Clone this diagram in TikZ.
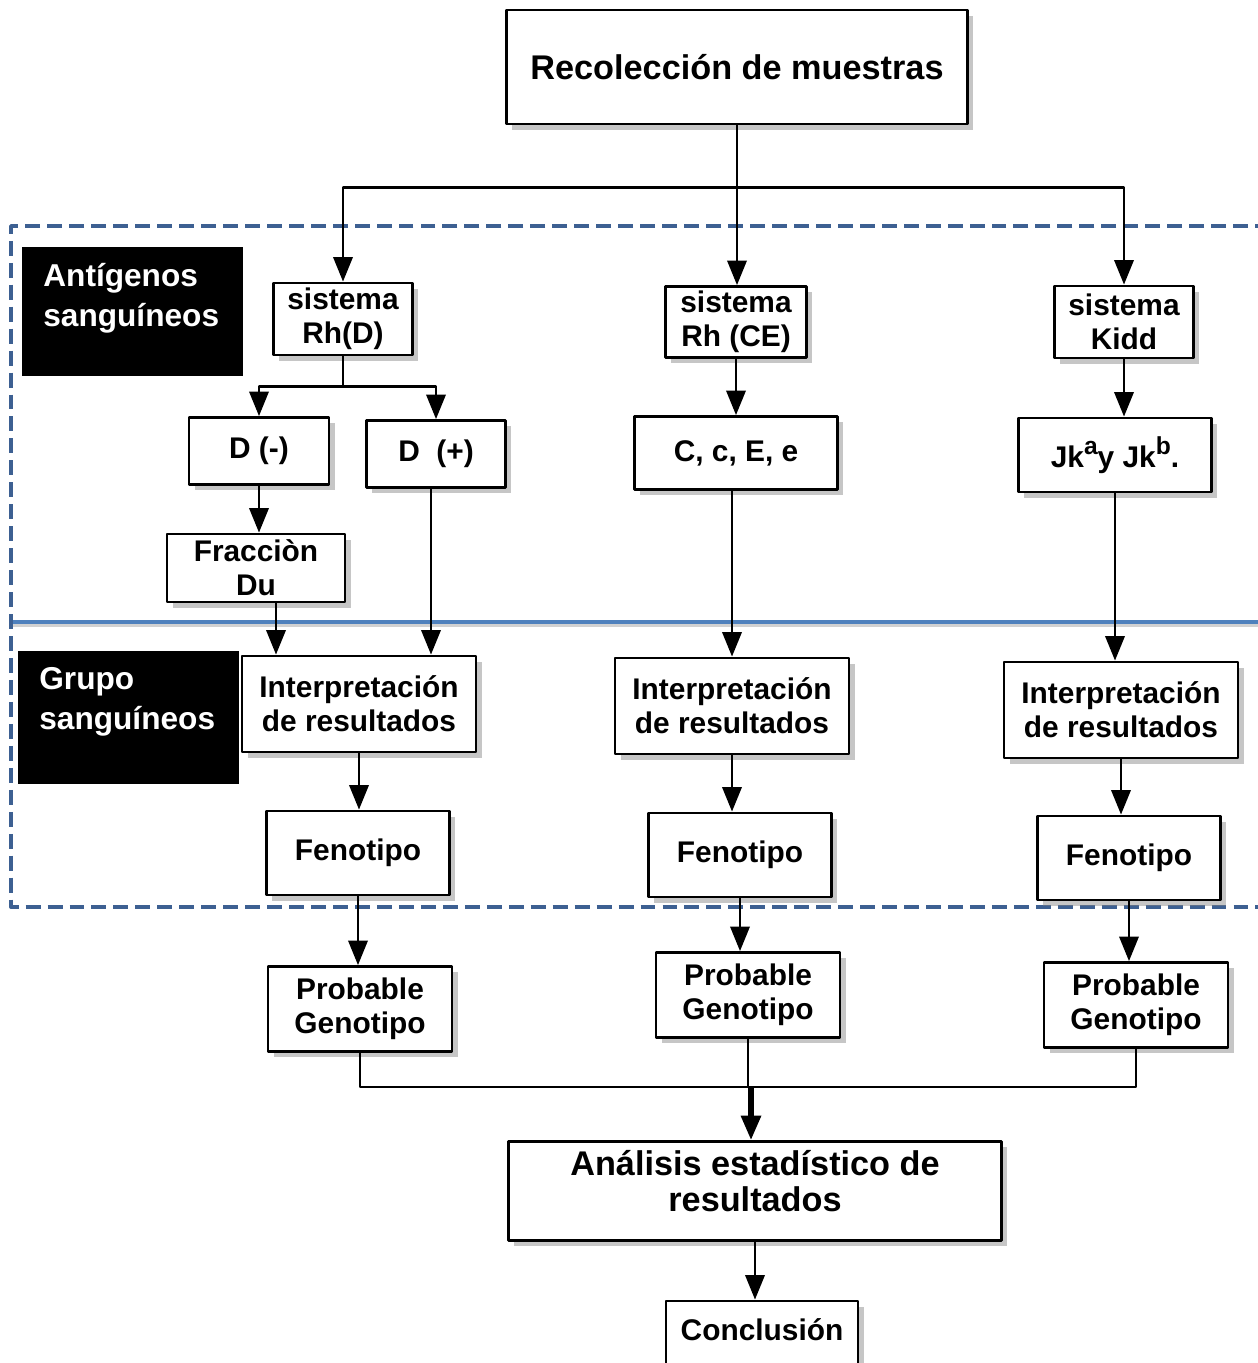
\documentclass[tikz,border=0pt]{standalone}
\usepackage{fontspec}
\setmainfont{Liberation Sans}
\usetikzlibrary{arrows.meta,shadows,calc}
\definecolor{dashblue}{RGB}{61,96,146}
\definecolor{lineblue}{RGB}{79,129,189}
\newcommand{\supjk}[1]{\raisebox{0.45em}{\fontsize{14}{14}\selectfont #1}}
\begin{document}
\begin{tikzpicture}[line join=round,x=0.02cm,y=-0.02cm,>={Triangle[length=14pt,width=11pt]}]
	\tikzset{box/.style={draw,fill=white,line width=1.6pt,align=center,inner sep=1pt,font=\bfseries\fontsize{17}{19.3}\selectfont,drop shadow={shadow xshift=3.2pt,shadow yshift=-3.2pt,opacity=0.45}},
		bigbox/.style={box,font=\bfseries\fontsize{19.5}{20.4}\selectfont},
		tag/.style={fill=black,text=white,align=left,anchor=north west,inner xsep=0.42cm,inner ysep=0pt,text width=3.58cm,font=\bfseries\fontsize{18}{23}\selectfont},
		conn/.style={->,line width=1.5pt}}
	\clip (0,0) rectangle (1258,1363);
	\draw[black!18,line width=2.5pt] (11,625)--(1270,625);
	\draw[lineblue,line width=2pt] (11,622)--(1270,622);
	\draw[dashblue,line width=2.2pt,dash pattern=on 8.5pt off 4pt] (1270,226)--(11,226)--(11,907)--(1270,907);
	\node[tag,minimum height=2.58cm] (antig) at (22,247) {Antígenos\\sanguíneos\\[-4pt]\mbox{}};
	\node[tag,minimum height=2.66cm] (grupo) at (18,651) {Grupo\\sanguíneos\\[-1pt]\mbox{}};
	\node[bigbox,minimum width=9.22cm,minimum height=2.28cm] (rec) at (737,67) {Recolección de muestras};
	\node[box,minimum width=2.78cm,minimum height=1.44cm] (rhd) at (343,319) {sistema\\Rh(D)};
	\node[box,minimum width=2.82cm,minimum height=1.42cm] (rhce) at (736,322) {sistema\\Rh (CE)};
	\node[box,minimum width=2.78cm,minimum height=1.44cm] (kidd) at (1124,322) {sistema\\Kidd};
	\node[box,minimum width=2.8cm,minimum height=1.34cm] (dneg) at (259,451) {D (-)};
	\node[box,minimum width=2.78cm,minimum height=1.34cm] (dpos) at (436,454) {D\ \ (+)};
	\node[box,minimum width=4.06cm,minimum height=1.46cm] (ccee) at (736,453) {C, c, E, e};
	\node[box,minimum width=3.86cm,minimum height=1.48cm] (jk) at (1115,455) {Jk\supjk{a}y Jk\supjk{b}.};
	\node[box,minimum width=3.56cm,minimum height=1.36cm] (du) at (256,568) {Fracciòn\\Du};
	\node[box,minimum width=4.68cm,minimum height=1.92cm] (int1) at (359,704) {Interpretación\\de resultados};
	\node[box,minimum width=4.68cm,minimum height=1.92cm] (int2) at (732,706) {Interpretación\\de resultados};
	\node[box,minimum width=4.68cm,minimum height=1.92cm] (int3) at (1121,710) {Interpretación\\de resultados};
	\node[box,minimum width=3.66cm,minimum height=1.68cm] (fen1) at (358,853) {Fenotipo};
	\node[box,minimum width=3.66cm,minimum height=1.68cm] (fen2) at (740,855) {Fenotipo};
	\node[box,minimum width=3.66cm,minimum height=1.68cm] (fen3) at (1129,858) {Fenotipo};
	\node[box,minimum width=3.68cm,minimum height=1.7cm] (pg1) at (360,1009) {Probable\\Genotipo};
	\node[box,minimum width=3.68cm,minimum height=1.7cm] (pg2) at (748,995) {Probable\\Genotipo};
	\node[box,minimum width=3.68cm,minimum height=1.7cm] (pg3) at (1136,1005) {Probable\\Genotipo};
	\node[bigbox,minimum width=9.86cm,minimum height=1.98cm] (ana) at (755,1191) {Análisis estadístico de\\resultados\\[-9pt]\mbox{}};
	\node[box,minimum width=3.84cm,minimum height=1.44cm] (con) at (762,1337) {Conclusión\\[-11pt]\mbox{}};
	\coordinate (top) at ($(rec.south)+(0,62)$);
	\draw[conn] (rec.south) -- (rec.south |- rhce.north);
	\draw[conn] (top) -| (rhd.north);
	\draw[conn] (top) -| (kidd.north);
	\coordinate (split) at ($(rhd.south)+(0,30)$);
	\draw[line width=1.5pt] (rhd.south) -- (split);
	\draw[conn] (split) -| (dneg.north);
	\draw[conn] (split) -| (dpos.north);
	\draw[conn] (dneg.south) -- (dneg.south |- du.north);
	\coordinate (duout) at ($(du.south)+(20,0)$);
	\draw[conn] (duout) -- (duout |- int1.north);
	\coordinate (dposout) at ($(dpos.south)+(-5,0)$);
	\draw[conn] (dposout) -- (dposout |- int1.north);
	\draw[conn] (rhce.south) -- (rhce.south |- ccee.north);
	\draw[conn] (int2.north |- ccee.south) -- (int2.north);
	\draw[conn] (kidd.south) -- (kidd.south |- jk.north);
	\draw[conn] (jk.south) -- (jk.south |- int3.north);
	\draw[conn] (int1.south) -- (int1.south |- fen1.north);
	\draw[conn] (int2.south) -- (int2.south |- fen2.north);
	\draw[conn] (int3.south) -- (int3.south |- fen3.north);
	\draw[conn] (fen1.south) -- (fen1.south |- pg1.north);
	\draw[conn] (fen2.south) -- (fen2.south |- pg2.north);
	\draw[conn] (fen3.south) -- (fen3.south |- pg3.north);
	\coordinate (merge) at ($(ana.north)+(-4,-53)$);
	\draw[line width=1.5pt] (pg1.south) |- (merge);
	\draw[line width=1.5pt] (pg3.south) |- (merge);
	\draw[line width=1.5pt] (pg2.south) -- (pg2.south |- merge);
	\draw[conn,line width=3pt] (merge) -- (merge |- ana.north);
	\draw[conn] (ana.south) -- (ana.south |- con.north);
\end{tikzpicture}
\end{document}
